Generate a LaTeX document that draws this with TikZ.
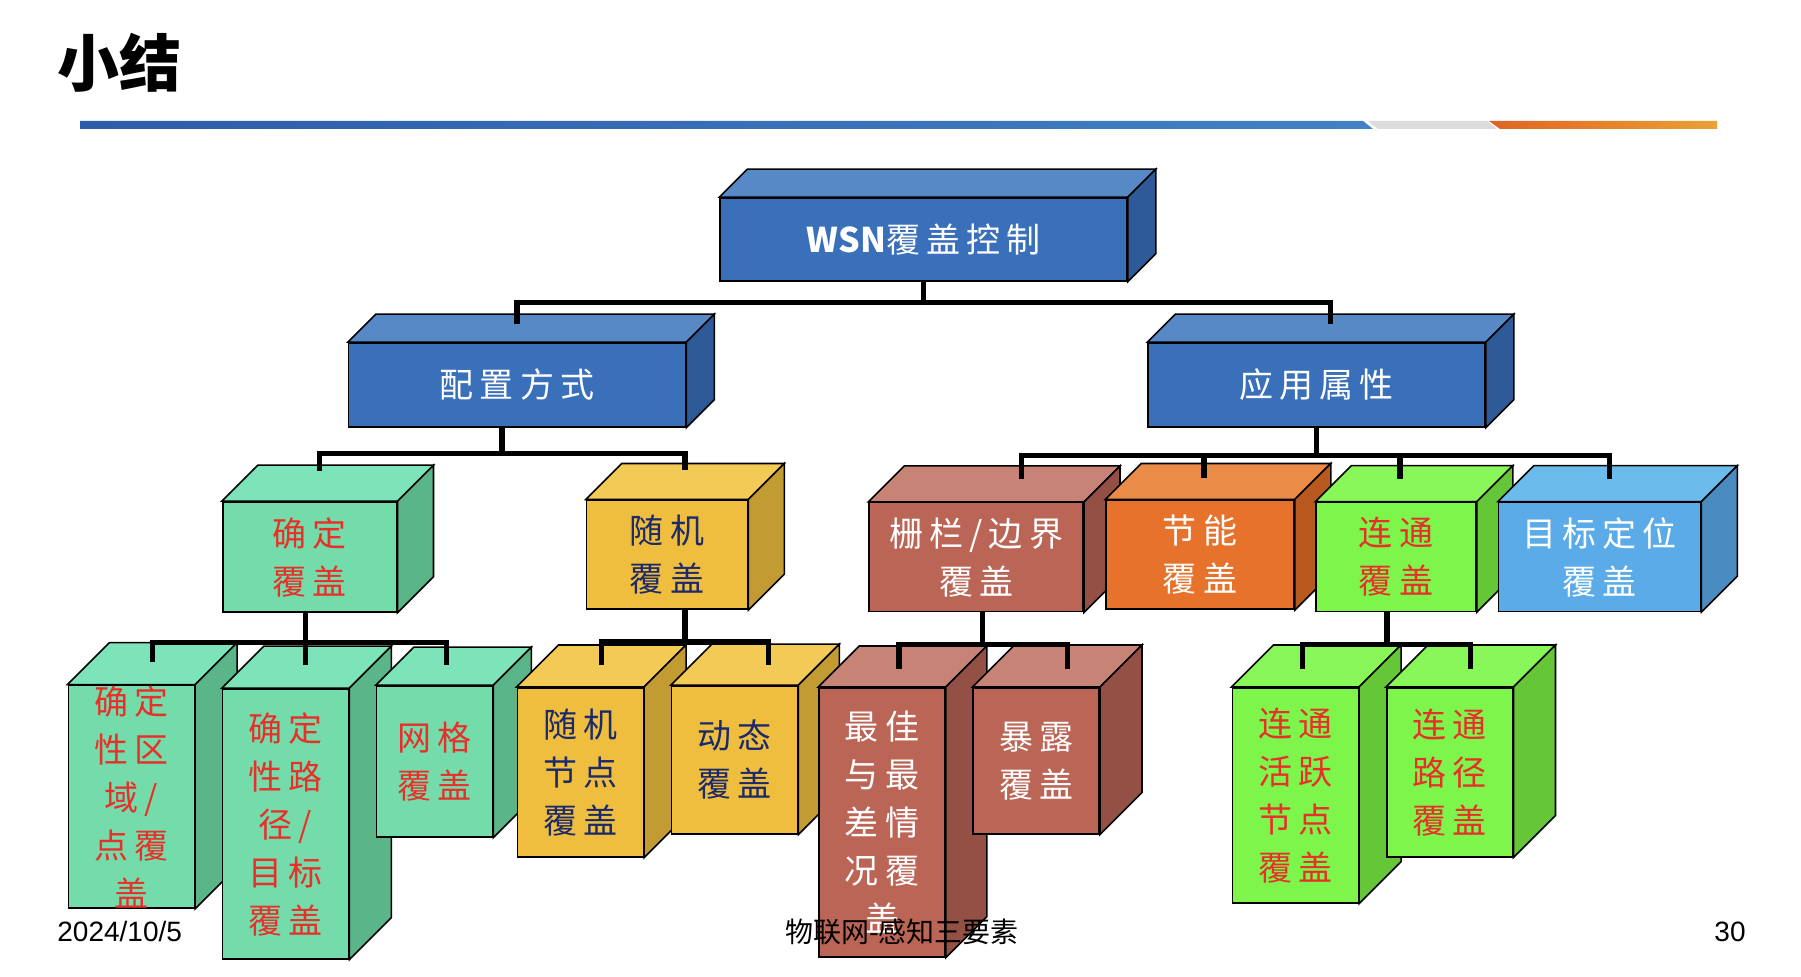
\documentclass[tikz,border=0pt]{standalone}
\usepackage{fontspec}
\newfontfamily\cjk{Noto Sans CJK SC}
\newfontfamily\kai[LetterSpace=18]{Noto Sans CJK SC}
\newfontfamily\arial{Liberation Sans}
\usetikzlibrary{calc}

\definecolor{blueF}{HTML}{3A70BA}\definecolor{blueT}{HTML}{5689C6}\definecolor{blueS}{HTML}{2E5A97}
\definecolor{mintF}{HTML}{74DCAA}\definecolor{mintT}{HTML}{7DE4BA}\definecolor{mintS}{HTML}{5AB588}
\definecolor{goldF}{HTML}{F0BE3E}\definecolor{goldT}{HTML}{F3CA56}\definecolor{goldS}{HTML}{C39B33}
\definecolor{rustF}{HTML}{BB6556}\definecolor{rustT}{HTML}{C88377}\definecolor{rustS}{HTML}{955046}
\definecolor{orngF}{HTML}{E6722B}\definecolor{orngT}{HTML}{EA8C48}\definecolor{orngS}{HTML}{B85A20}
\definecolor{limeF}{HTML}{7EF54B}\definecolor{limeT}{HTML}{88F75A}\definecolor{limeS}{HTML}{65C638}
\definecolor{skyF}{HTML}{5AABE7}\definecolor{skyT}{HTML}{6BBBEC}\definecolor{skyS}{HTML}{4A8BC0}
\definecolor{txtred}{HTML}{E8302A}\definecolor{txtnavy}{HTML}{1B2A6B}
\definecolor{hdrBlueL}{HTML}{2F5CA7}\definecolor{hdrBlueR}{HTML}{4282C4}
\definecolor{hdrGray}{HTML}{DCDCDC}
\definecolor{hdrOrngL}{HTML}{DF6424}\definecolor{hdrOrngR}{HTML}{E8A236}

% top and side faces of a box: node, depth, top colour, side colour
\newcommand{\cubeside}[4]{%
  \filldraw[face, fill=#3] (#1.north west) -- ++(#2,-#2) -- ([shift={(#2,-#2)}]#1.north east) -- (#1.north east) -- cycle;
  \filldraw[face, fill=#4] (#1.north east) -- ++(#2,-#2) -- ([shift={(#2,-#2)}]#1.south east) -- (#1.south east) -- cycle;}

\begin{document}
\begin{tikzpicture}[x=0.5pt, y=-0.5pt,
		cube/.style={draw=black, line width=0.8pt, inner sep=0pt, align=center,
			font=\kai\fontsize{17}{24}\selectfont},
		dims/.style 2 args={minimum width=#1*0.5pt, minimum height=#2*0.5pt},
		face/.style={draw=black, line width=0.8pt},
		link/.style={line width=2.6pt, line join=miter}]
		\useasboundingbox (0,0) rectangle (1801,977);
		\fill[white] (0,0) rectangle (1801,977);

		% title and header line
		\node[anchor=west, inner sep=0pt, font=\cjk\bfseries\fontsize{31}{31}\selectfont] (title) at (57,63) {小结};
		\shade[left color=hdrBlueL, right color=hdrBlueR] (80,121) -- (1363,121) -- (1373,129) -- (80,129) -- cycle;
		\fill[hdrGray] (1368,121) -- (1487,121) -- (1497,129) -- (1378,129) -- cycle;
		\shade[left color=hdrOrngL, right color=hdrOrngR] (1489,121) -- (1717,121) -- (1717,129) -- (1500,129) -- cycle;

		% top level
		\node[cube, dims={407}{83}, fill=blueF, text=white] (root) at (923.5,239.5) {{\cjk\bfseries WSN}覆盖控制};
		\cubeside{root}{28}{blueT}{blueS}

		% level 1
		\node[cube, dims={337}{84}, fill=blueF, text=white] (cfg) at (517,385) {配置方式};
		\cubeside{cfg}{28}{blueT}{blueS}
		\node[cube, dims={337}{84}, fill=blueF, text=white] (app) at (1316.5,385) {应用属性};
		\cubeside{app}{28}{blueT}{blueS}

		% level 2
		\node[cube, dims={174}{110}, fill=mintF, text=txtred] (fix) at (309.7,557) {确定\\覆盖};
		\cubeside{fix}{36}{mintT}{mintS}
		\node[cube, dims={161}{109}, fill=goldF, text=txtnavy] (rnd) at (667,554.8) {随机\\覆盖};
		\cubeside{rnd}{36}{goldT}{goldS}
		\node[cube, dims={214}{109}, fill=rustF, text=white] (bar) at (976.2,557.2) {栅栏/边界\\覆盖};
		\cubeside{bar}{36}{rustT}{rustS}
		\node[cube, dims={188}{109}, fill=orngF, text=white] (eng) at (1200,554.8) {节能\\覆盖};
		\cubeside{eng}{36}{orngT}{orngS}
		\node[cube, dims={160}{109}, fill=limeF, text=txtred] (con) at (1396,557) {连通\\覆盖};
		\cubeside{con}{36}{limeT}{limeS}
		\node[cube, dims={202}{109}, fill=skyF, text=white] (tgt) at (1599.5,557) {目标定位\\覆盖};
		\cubeside{tgt}{36}{skyT}{skyS}

		% level 3
		\node[cube, dims={126}{215}, fill=mintF, text=txtred] (fixA) at (131.3,796.7) {确定\\性区\\域/\\点覆\\盖};
		\cubeside{fixA}{42}{mintT}{mintS}
		\node[cube, dims={126}{270}, fill=mintF, text=txtred] (fixB) at (285.5,824) {确定\\性路\\径/\\目标\\覆盖};
		\cubeside{fixB}{42}{mintT}{mintS}
		\node[cube, dims={116}{151}, fill=mintF, text=txtred] (fixC) at (434.5,761.5) {网格\\覆盖};
		\cubeside{fixC}{38}{mintT}{mintS}
		\node[cube, dims={126}{169}, fill=goldF, text=txtnavy] (rndA) at (580.3,772.3) {随机\\节点\\覆盖};
		\cubeside{rndA}{42}{goldT}{goldS}
		\node[cube, dims={126}{148}, fill=goldF, text=txtnavy] (rndB) at (734.5,760) {动态\\覆盖};
		\cubeside{rndB}{41}{goldT}{goldS}
		\node[cube, dims={126}{269}, fill=rustF, text=white] (barA) at (882,822.3) {最佳\\与最\\差情\\况覆\\盖};
		\cubeside{barA}{41}{rustT}{rustS}
		\node[cube, dims={126}{146}, fill=rustF, text=white] (barB) at (1036.2,760.8) {暴露\\覆盖};
		\cubeside{barB}{42}{rustT}{rustS}
		\node[cube, dims={126}{215}, fill=limeF, text=txtred] (conA) at (1295.3,795.3) {连通\\活跃\\节点\\覆盖};
		\cubeside{conA}{42}{limeT}{limeS}
		\node[cube, dims={126}{169}, fill=limeF, text=txtred] (conB) at (1449.7,772.3) {连通\\路径\\覆盖};
		\cubeside{conB}{42}{limeT}{limeS}

		% root to level 1
		\draw[link] (root.south) -- ++(0,21);
		\draw[link] ($(cfg.north)+(0,-18)$) |- ($(root.south)+(0,21)$) -| ($(app.north)+(14,-18)$);
		% level 1 to level 2
		\draw[link] ($(cfg.south)+(-15,0)$) -- ++(0,26);
		\draw[link] ($(fix.north)+(10,-30)$) |- ($(cfg.south)+(-15,26)$) -| ($(rnd.north)+(18,-29)$);
		\draw[link] (app.south) -- ++(0,27.5);
		\draw[link] ($(bar.north)+(45,-23)$) |- ($(app.south)+(0,27.5)$) -| ($(tgt.north)+(10,-23)$);
		\draw[link] ($(eng.north)+(4,-21)$) -- ++(0,-25);
		\draw[link] ($(con.north)+(4,-23)$) -- ++(0,-25);
		% level 2 to level 3
		\draw[link] ($(fix.south)+(-4,0)$) -- ++(0,30);
		\draw[link] ($(fixA.north)+(21,-23)$) |- ($(fix.south)+(-4,30)$) -| ($(fixC.north)+(12,-20)$);
		\draw[link] ($(fixB.north)+(20,-23)$) -- ++(0,-25);
		\draw[link] ($(rnd.south)+(18,0)$) -- ++(0,32);
		\draw[link] ($(rndA.north)+(21,-22)$) |- ($(rnd.south)+(18,32)$) -| ($(rndB.north)+(34,-20)$);
		\draw[link] ($(bar.south)+(6,0)$) -- ++(0,32);
		\draw[link] ($(barA.north)+(17,-18)$) |- ($(bar.south)+(6,32)$) -| ($(barB.north)+(31,-18)$);
		\draw[link] ($(con.south)+(-9,0)$) -- ++(0,32);
		\draw[link] ($(conA.north)+(7,-18)$) |- ($(con.south)+(-9,32)$) -| ($(conB.north)+(21,-18)$);

		% footer
		\node[anchor=west, inner sep=0pt, font=\arial\fontsize{14}{14}\selectfont] (date) at (57,931.5) {2024/10/5};
		\node[inner sep=0pt, font=\cjk\fontsize{14}{14}\selectfont] (foot) at (902,931.5) {物联网-感知三要素};
		\node[anchor=east, inner sep=0pt, font=\arial\fontsize{14}{14}\selectfont] (page) at (1746,931.5) {30};
	\end{tikzpicture}
\end{document}
